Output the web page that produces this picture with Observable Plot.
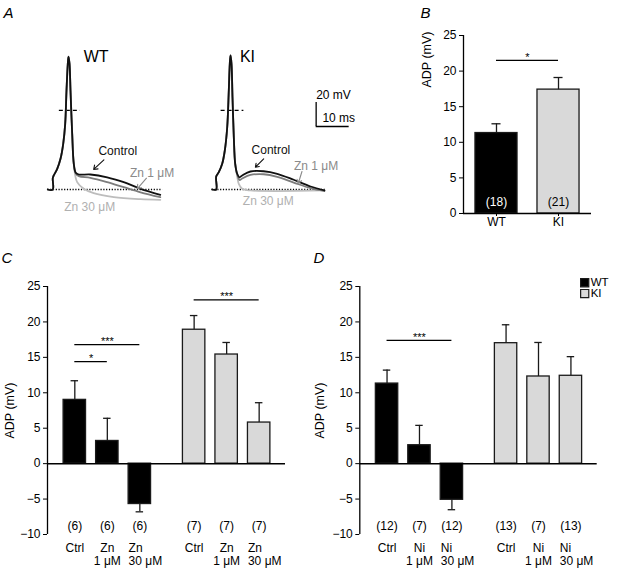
<!DOCTYPE html>
<html><head><meta charset="utf-8">
<script src="https://cdn.jsdelivr.net/npm/d3@7"></script>
<script src="https://cdn.jsdelivr.net/npm/@observablehq/plot@0.6"></script>
<style>
html,body{margin:0;padding:0;background:#fff;}
#fig{position:relative;width:618px;height:568px;overflow:hidden;background:#fff;}
#fig > div{position:absolute;}
</style></head><body><div id="fig"></div>
<script>
// ---------------- DATA ----------------
// Panel A: membrane potential traces, [time (ms), voltage (mV)]
const wtControl = [[0,-66],[1.5,-66],[1.5,-56.6],[1.8,-54.3],[2.85,-48.8],[3.85,-40.4],[4.67,-27.9],[5.27,-11.3],[5.67,16.5],[6.06,38.8],[6.27,44.8],[6.58,39],[6.88,16.5],[7.39,-19.6],[7.88,-44.6],[8.48,-52.1],[9.4,-53.5],[12.9,-53.5],[18.0,-55.8],[23.0,-59.9],[28.1,-65.4],[34.1,-70.4]];
const wtZn1 = [[0,-66],[1.5,-66],[1.5,-56.6],[1.8,-54.3],[2.85,-48.8],[3.85,-40.4],[4.67,-27.9],[5.27,-11.3],[5.67,16.5],[6.06,38.8],[6.27,44.8],[6.58,39],[6.88,16.5],[7.39,-19.6],[7.88,-44.6],[8.48,-52.8],[9.4,-54.9],[12.9,-56.3],[18.0,-59.9],[23.0,-64.1],[28.1,-68.3],[34.1,-72.4]];
const wtZn30 = [[0,-66],[1.5,-66],[1.5,-56.6],[1.8,-54.3],[2.85,-48.8],[3.85,-40.4],[4.67,-27.9],[5.27,-11.3],[5.67,16.5],[6.06,38.8],[6.27,44.8],[6.58,39],[6.88,16.5],[7.39,-19.6],[7.95,-47],[8.9,-59.9],[10.9,-65.4],[13.9,-69.1],[20.0,-72.4],[28.1,-74.1],[34.1,-74.6]];
const kiControl = [[0,-66],[1.21,-66],[1.21,-55.2],[2.0,-51.6],[3.03,-44.6],[3.82,-33.5],[4.55,-14.1],[5.03,16.5],[5.33,38.8],[5.55,45.7],[5.85,38.8],[6.15,10.9],[6.55,-22.4],[6.97,-44.6],[7.58,-52.9],[8.27,-55.8],[9.09,-54.3],[11.6,-51],[15.6,-50.8],[19.7,-52.9],[24.7,-57.9],[29.8,-63.5],[34.0,-66.8]];
const kiZn1 = [[0,-66],[1.21,-66],[1.21,-55.2],[2.0,-51.6],[3.03,-44.6],[3.82,-33.5],[4.55,-14.1],[5.03,16.5],[5.33,38.8],[5.55,45.7],[5.85,38.8],[6.15,10.9],[6.55,-22.4],[6.97,-44.6],[7.58,-53.5],[8.27,-58.1],[9.09,-56.8],[11.6,-53.9],[15.6,-53.3],[19.7,-55.4],[24.7,-60.2],[29.8,-64.9],[34.0,-67.3]];
const kiZn30 = [[0,-66],[1.21,-66],[1.21,-55.2],[2.0,-51.6],[3.03,-44.6],[3.82,-33.5],[4.55,-14.1],[5.03,16.5],[5.33,38.8],[5.55,45.7],[5.85,38.8],[6.15,10.9],[6.55,-22.4],[6.97,-44.6],[7.58,-55.2],[8.06,-61.3],[9.09,-65.4],[11.6,-66.8],[34.0,-66.8]];
const wtBaseline = {t0: 0, t1: 34.8, v: -66};
const kiBaseline = {t0: 0, t1: 34.7, v: -66};
const wtZeroDash = {t0: 3.5, t1: 9.9, v: 0};
const kiZeroDash = {t0: 2.7, t1: 9.6, v: 0};
// annotation labels (text, t, v) and arrows
const wtTitle = {text: "WT", t: 10.9, v: 44.8};
const kiTitle = {text: "KI", t: 8.4, v: 44.8};
const wtNotes = [{text: "Control", t: 21.2, v: -33.8, kind: "ctrl"}, {text: "Zn 1 μM", t: 31.6, v: -52.5, kind: "zn1"}, {text: "Zn 30 μM", t: 12.7, v: -80.8, kind: "zn30"}];
const kiNotes = [{text: "Control", t: 17.8, v: -33.5, kind: "ctrl"}, {text: "Zn 1 μM", t: 31.5, v: -46.7, kind: "zn1"}, {text: "Zn 30 μM", t: 17.0, v: -75.8, kind: "zn30"}];
const wtArrows = [{t1: 17.0, v1: -41.3, t2: 13.9, v2: -49.3, kind: "ctrl"}, {t1: 29.9, v1: -56.6, t2: 27.1, v2: -65.4, kind: "zn1"}];
const kiArrows = [{t1: 15.6, v1: -40.4, t2: 13.1, v2: -47.4, kind: "ctrl"}, {t1: 27.2, v1: -51, t2: 26.1, v2: -60.8, kind: "zn1"}];
const scaleBar = {t: 31.5, v: -13.5, mV: 20, ms: 10, mvLabel: "20 mV", msLabel: "10 ms"};

// Panel B
const bGenotypes = ["WT", "KI"];
const bMeans = [11.3, 17.4];
const bErrs = [1.3, 1.7];
const bN = [18, 21];
const bSig = [{from: 0, to: 1, y: 21.5, label: "*"}];

// Panel C (Zn)
const cGenotypes = ["WT", "WT", "WT", "KI", "KI", "KI"];
const cTreatments = ["Ctrl", "Zn\n1 μM", "Zn\n30 μM", "Ctrl", "Zn\n1 μM", "Zn\n30 μM"];
const cMeans = [9.0, 3.2, -5.7, 18.9, 15.4, 5.8];
const cErrs = [2.7, 3.2, 1.1, 2.0, 1.7, 2.8];
const cN = [6, 6, 6, 7, 7, 7];
const cSig = [{from: 0, to: 1, y: 14.4, label: "*"}, {from: 0, to: 2, y: 16.8, label: "***"}, {from: 3, to: 5, y: 23.1, label: "***"}];

// Panel D (Ni)
const dGenotypes = ["WT", "WT", "WT", "KI", "KI", "KI"];
const dTreatments = ["Ctrl", "Ni\n1 μM", "Ni\n30 μM", "Ctrl", "Ni\n1 μM", "Ni\n30 μM"];
const dMeans = [11.3, 2.6, -5.1, 17.0, 12.3, 12.4];
const dErrs = [1.9, 2.8, 1.4, 2.6, 4.8, 2.7];
const dN = [12, 7, 12, 13, 7, 13];
const dSig = [{from: 0, to: 2, y: 17.4, label: "***"}];

const yTicksB = [0, 5, 10, 15, 20, 25];
const yTicksCD = [-10, -5, 0, 5, 10, 15, 20, 25];
const legendLabels = ["WT", "KI"];

// ---------------- STYLE / LAYOUT ----------------
const FONT = "'Liberation Sans', Arial, Helvetica, sans-serif";
const baseStyle = {fontFamily: FONT, fontSize: "12px", background: "transparent", overflow: "visible", color: "#000"};
const FILL = {WT: "#000000", KI: "#d9d9d9"};
const TRACE = {ctrl: "#111111", zn1: "#7c7c7c", zn30: "#bdbdbd"};
const NOTE = {ctrl: "#111111", zn1: "#8a8a8a", zn30: "#b0b0b0"};
const fig = document.getElementById("fig");
function place(node, left, top) {
  const d = document.createElement("div");
  d.style.left = left + "px"; d.style.top = top + "px";
  d.appendChild(node); fig.appendChild(d);
}

// ---------------- PANEL A ----------------
const PX_PER_MS = 3.3, PX_PER_MV = 1.2, REST = -66;
function tracePanel({width, height, ox, oy, ctrl, zn1, zn30, baseline, zero, title, notes, arrows, bar, panelLetter}) {
  const marks = [
    Plot.ruleY([baseline], {y: "v", x1: "t0", x2: "t1", stroke: "#000", strokeWidth: 1.3, strokeDasharray: "1.2,1.6"}),
    Plot.ruleY([zero], {y: "v", x1: "t0", x2: "t1", stroke: "#000", strokeWidth: 1.3, strokeDasharray: "4,3"}),
    Plot.line(zn30, {x: d => d[0], y: d => d[1], stroke: TRACE.zn30, strokeWidth: 1.8, curve: "catmull-rom"}),
    Plot.line(zn1, {x: d => d[0], y: d => d[1], stroke: TRACE.zn1, strokeWidth: 1.8, curve: "catmull-rom"}),
    Plot.line(ctrl, {x: d => d[0], y: d => d[1], stroke: TRACE.ctrl, strokeWidth: 1.8, curve: "catmull-rom"}),
    Plot.text([title], {x: "t", y: "v", text: "text", textAnchor: "start", fontSize: 16, fill: "#000"}),
    Plot.text(notes, {x: "t", y: "v", text: "text", fill: d => NOTE[d.kind], fontSize: 12}),
    Plot.arrow(arrows, {x1: "t1", y1: "v1", x2: "t2", y2: "v2", stroke: d => NOTE[d.kind], strokeWidth: 1.1, headLength: 6, headAngle: 70})
  ];
  if (bar) {
    marks.push(
      Plot.ruleX([bar], {x: "t", y1: "v", y2: d => d.v + d.mV, stroke: "#000", strokeWidth: 1.3}),
      Plot.ruleY([bar], {y: "v", x1: "t", x2: d => d.t + d.ms, stroke: "#000", strokeWidth: 1.3}),
      Plot.text([bar], {x: "t", y: d => d.v + d.mV + 6, text: "mvLabel", textAnchor: "start", fontSize: 12}),
      Plot.text([bar], {x: d => d.t + 1.9, y: d => d.v + 7, text: "msLabel", textAnchor: "start", fontSize: 12})
    );
  }
  if (panelLetter) {
    marks.push(Plot.text([panelLetter], {frameAnchor: "top-left", dx: 3, dy: 12.5, textAnchor: "start", lineAnchor: "middle", fontSize: 15, fontStyle: "italic"}));
  }
  return Plot.plot({
    width, height, marginLeft: 0, marginRight: 0, marginTop: 0, marginBottom: 0,
    style: baseStyle,
    x: {domain: [-ox / PX_PER_MS, (width - ox) / PX_PER_MS], axis: null},
    y: {domain: [REST - (height - oy) / PX_PER_MV, REST + oy / PX_PER_MV], axis: null},
    marks
  });
}
place(tracePanel({width: 200, height: 230, ox: 47.3, oy: 189, ctrl: wtControl, zn1: wtZn1, zn30: wtZn30,
  baseline: wtBaseline, zero: wtZeroDash, title: wtTitle, notes: wtNotes, arrows: wtArrows, panelLetter: "A"}), 0, 0);
place(tracePanel({width: 175, height: 230, ox: 11.7, oy: 189, ctrl: kiControl, zn1: kiZn1, zn30: kiZn30,
  baseline: kiBaseline, zero: kiZeroDash, title: kiTitle, notes: kiNotes, arrows: kiArrows, bar: scaleBar}), 200, 0);

// ---------------- BAR PANELS ----------------
function barPanel(cfg) {
  const rows = cfg.means.map((m, i) => ({
    pos: cfg.pos[i], mean: m, err: cfg.errs[i], geno: cfg.genos[i],
    tip: m + Math.sign(m) * cfg.errs[i], n: `(${cfg.ns[i]})`, label: cfg.labels ? cfg.labels[i] : ""
  }));
  const hw = cfg.barHalf, cw = cfg.capHalf;
  const marks = [
    Plot.rect(rows, {x1: d => d.pos - hw, x2: d => d.pos + hw, y1: 0, y2: "mean", fill: d => FILL[d.geno], stroke: "#1a1a1a", strokeWidth: 1.3}),
    Plot.ruleX(rows, {x: "pos", y1: "mean", y2: "tip", stroke: "#1a1a1a", strokeWidth: 1.3}),
    Plot.ruleY(rows, {y: "tip", x1: d => d.pos - cw, x2: d => d.pos + cw, stroke: "#1a1a1a", strokeWidth: 1.3}),
    Plot.ruleY([0], {stroke: "#000", strokeWidth: 1.5}),
    Plot.ruleX([cfg.xDomain[0]], {y1: cfg.yDomain[0], y2: cfg.yDomain[1], stroke: "#000", strokeWidth: 1.3}),
    Plot.axisY({ticks: cfg.yTicks, tickSize: 4, tickPadding: 3, label: null, tickFormat: d => d < 0 ? "\u2212" + Math.abs(d) : String(d), fontSize: 12}),
    Plot.ruleY(cfg.sig, {y: "y", x1: d => cfg.pos[d.from], x2: d => cfg.pos[d.to], stroke: "#000", strokeWidth: 1.2}),
    Plot.text(cfg.sig, {x: d => (cfg.pos[d.from] + cfg.pos[d.to]) / 2, y: "y", text: "label", fontSize: 11, dy: -3.2}),
    Plot.text(["ADP (mV)"], {frameAnchor: cfg.ylabAnchor, rotate: -90, dx: cfg.ylabDx, dy: cfg.ylabDy, textAnchor: "middle", lineAnchor: "middle", fontSize: 12.5}),
    Plot.text([cfg.letter], {frameAnchor: "top-left", dx: cfg.letterDx, dy: cfg.letterDy, textAnchor: "start", lineAnchor: "middle", fontSize: 15, fontStyle: "italic"})
  ];
  if (cfg.nInside) {
    marks.push(Plot.text(rows, {x: "pos", frameAnchor: "bottom", lineAnchor: "middle", dy: -11, text: "n", fill: d => d.geno === "WT" ? "#fff" : "#000", fontSize: 12}));
    marks.push(Plot.axisX({ticks: cfg.pos, tickFormat: (d, i) => cfg.genos[i], tickSize: 3, tickPadding: 1, label: null, fontSize: 12}));
  } else {
    marks.push(Plot.text(rows, {x: "pos", frameAnchor: "bottom", lineAnchor: "middle", dy: -8.2, text: "n", fontSize: 12}));
    marks.push(Plot.text(rows.filter(d => !d.label.includes("30")), {x: "pos", frameAnchor: "bottom", lineAnchor: "top", dy: 7.6, lineHeight: 1.12, text: "label", fontSize: 12}));
    marks.push(Plot.text(rows.filter(d => d.label.includes("30")), {x: d => d.pos - hw, frameAnchor: "bottom", lineAnchor: "top", textAnchor: "start", dy: 7.6, lineHeight: 1.12, text: "label", fontSize: 12}));
  }
  if (cfg.legend) {
    cfg.legend.forEach((lab, i) => {
      marks.push(Plot.dot([lab], {frameAnchor: "top-right", dx: -12.5, dy: -3.8 + i * 10.9, symbol: "square", r: 4.6, fill: FILL[lab], stroke: "#1a1a1a", strokeWidth: 1.2}));
      marks.push(Plot.text([lab], {frameAnchor: "top-right", dx: -6.5, dy: -3.8 + i * 10.9, textAnchor: "start", lineAnchor: "middle", fontSize: 11.5}));
    });
  }
  return Plot.plot({
    width: cfg.width, height: cfg.height,
    marginLeft: cfg.margin[3], marginTop: cfg.margin[0], marginRight: cfg.margin[1], marginBottom: cfg.margin[2],
    style: baseStyle,
    x: {type: "linear", domain: cfg.xDomain, axis: cfg.nInside ? undefined : null},
    y: {domain: cfg.yDomain},
    marks
  });
}

// group position: treatment index within genotype, genotypes separated by a gap
const GROUP_GAP = 3.67;
const posOf = (genos) => genos.map((g, i) => (g === "KI" ? GROUP_GAP : 0) + (i % 3));

place(barPanel({
  width: 243, height: 240, margin: [35, 27, 27, 88],
  xDomain: [-0.532, 1.532], yDomain: [0, 25], yTicks: yTicksB,
  pos: [0, 1], genos: bGenotypes, means: bMeans, errs: bErrs, ns: bN, sig: bSig,
  barHalf: 0.339, capHalf: 0.073, nInside: true,
  ylabAnchor: "top-left", ylabDx: -37, ylabDy: 24, letter: "B", letterDx: -43, letterDy: -22
}), 375, 0);

place(barPanel({
  width: 310, height: 328, margin: [46, 25, 34, 47],
  xDomain: [-0.84, 6.48], yDomain: [-10, 25], yTicks: yTicksCD,
  pos: posOf(cGenotypes), genos: cGenotypes, labels: cTreatments, means: cMeans, errs: cErrs, ns: cN, sig: cSig,
  barHalf: 0.345, capHalf: 0.115,
  ylabAnchor: "left", ylabDx: -38, ylabDy: 0, letter: "C", letterDx: -46, letterDy: -28
}), 0, 240);

place(barPanel({
  width: 308, height: 328, margin: [46, 21.3, 34, 49.3],
  xDomain: [-0.84, 6.48], yDomain: [-10, 25], yTicks: yTicksCD,
  pos: posOf(dGenotypes), genos: dGenotypes, labels: dTreatments, means: dMeans, errs: dErrs, ns: dN, sig: dSig,
  barHalf: 0.345, capHalf: 0.115, legend: legendLabels,
  ylabAnchor: "left", ylabDx: -40, ylabDy: 0, letter: "D", letterDx: -46.3, letterDy: -28
}), 310, 240);
</script></body></html>
